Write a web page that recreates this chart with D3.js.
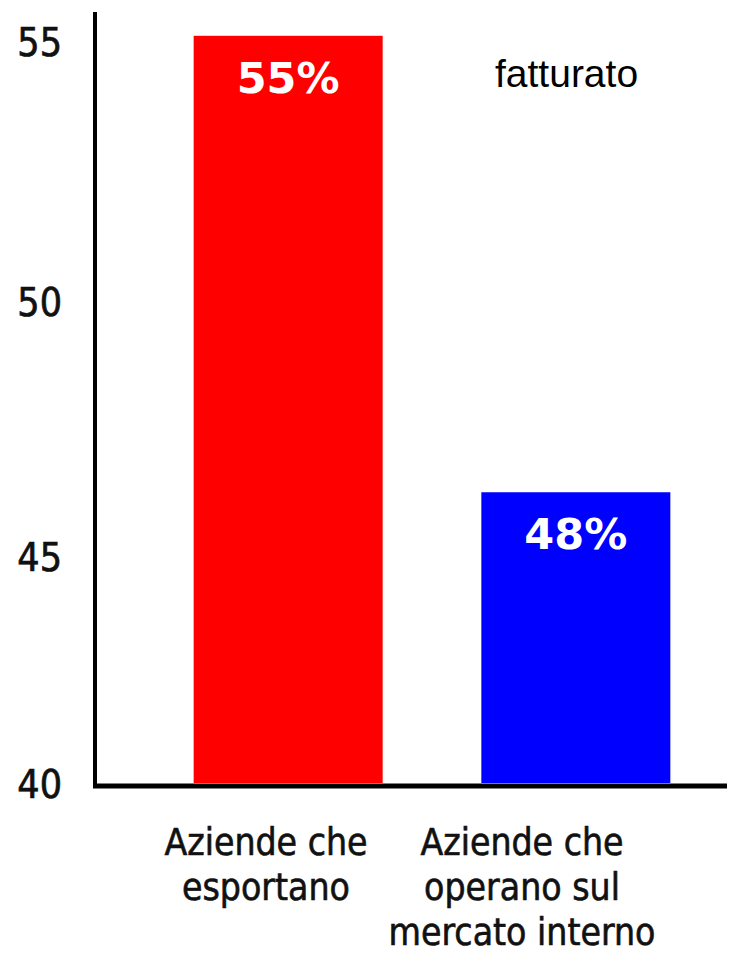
<!DOCTYPE html>
<html lang="it">
<head>
    <meta charset="UTF-8">
    <script src="https://cdn.jsdelivr.net/npm/d3@7"></script>
    <title>Fatturato</title>
    <style>
        body { margin: 0; background: #fff; }
        .tick text { font-family: "DejaVu Sans Condensed", "DejaVu Sans", sans-serif; fill: #111; stroke: #111; stroke-width: 0.7px; }
    </style>
</head>
<body>
    <div class="chart"></div>
    <script>
        // Data
        const categories = ["esportano", "interno"];
        const catLabels = [
            ["Aziende che", "esportano"],
            ["Aziende che", "operano sul", "mercato interno"]
        ];
        const values = [55.1, 46.25];
        const valueLabels = ["55%", "48%"];
        const barColors = ["#ff0000", "#0000ff"];
        const yTicks = [40, 45, 50, 55];

        const width = 733, height = 957;

        const svg = d3.select(".chart").append("svg")
            .attr("width", width)
            .attr("height", height);

        // y scale follows the uneven spacing of the original picture
        const y = d3.scaleLinear()
            .domain([40, 45, 50, 55])
            .range([783, 556, 301, 41]);

        const x = d3.scaleBand()
            .domain(categories)
            .range([97, 767])
            .paddingInner(0.343)
            .paddingOuter(0.336);

        // label positions sit a bit left of the bars in the original
        const xLab = d3.scalePoint()
            .domain(categories)
            .range([266, 522]);

        // bars
        svg.selectAll("rect.bar")
            .data(values)
            .enter()
            .append("rect")
            .attr("class", "bar")
            .attr("x", (d, i) => x(categories[i]))
            .attr("width", x.bandwidth())
            .attr("y", d => y(d))
            .attr("height", d => y(40) - y(d))
            .attr("fill", (d, i) => barColors[i]);

        // value labels inside bars
        svg.selectAll("text.val")
            .data(values)
            .enter()
            .append("text")
            .attr("class", "val")
            .attr("x", (d, i) => x(categories[i]) + x.bandwidth() / 2)
            .attr("y", d => y(d) + 57)
            .attr("text-anchor", "middle")
            .style("font-family", "'DejaVu Sans', Verdana, sans-serif")
            .style("font-weight", "bold")
            .style("font-size", "43px")
            .attr("fill", "#fff")
            .text((d, i) => valueLabels[i]);

        // y axis labels
        const yAxis = d3.axisLeft(y)
            .tickValues(yTicks)
            .tickSize(0)
            .tickPadding(0);

        const gy = svg.append("g")
            .attr("transform", "translate(62,0)")
            .call(yAxis);
        gy.select(".domain").remove();
        gy.selectAll(".tick text")
            .style("font-size", "39px")
            .attr("dy", "0.36em");

        // axis lines
        svg.append("line")
            .attr("x1", 95).attr("x2", 95)
            .attr("y1", 12).attr("y2", y(40) + 5)
            .attr("stroke", "#000")
            .attr("stroke-width", 4);

        svg.append("line")
            .attr("x1", 93).attr("x2", 727)
            .attr("y1", y(40) + 3).attr("y2", y(40) + 3)
            .attr("stroke", "#000")
            .attr("stroke-width", 5);

        // category labels
        const catG = svg.selectAll("text.cat")
            .data(categories)
            .enter()
            .append("text")
            .attr("class", "cat")
            .attr("text-anchor", "middle")
            .style("font-family", "'DejaVu Sans Condensed', 'DejaVu Sans', sans-serif")
            .style("font-size", "37px")
            .attr("fill", "#111")
            .attr("stroke", "#111")
            .attr("stroke-width", 0.6);

        catG.selectAll("tspan")
            .data((d, i) => catLabels[i].map(t => ({ t, c: d })))
            .enter()
            .append("tspan")
            .attr("x", d => xLab(d.c))
            .attr("y", (d, j) => 855 + j * 45)
            .text(d => d.t);

        // annotation
        svg.append("text")
            .attr("x", 495)
            .attr("y", 87)
            .style("font-family", "'Liberation Sans', Arial, sans-serif")
            .style("font-size", "39px")
            .attr("fill", "#000")
            .text("fatturato");
    </script>
</body>
</html>
